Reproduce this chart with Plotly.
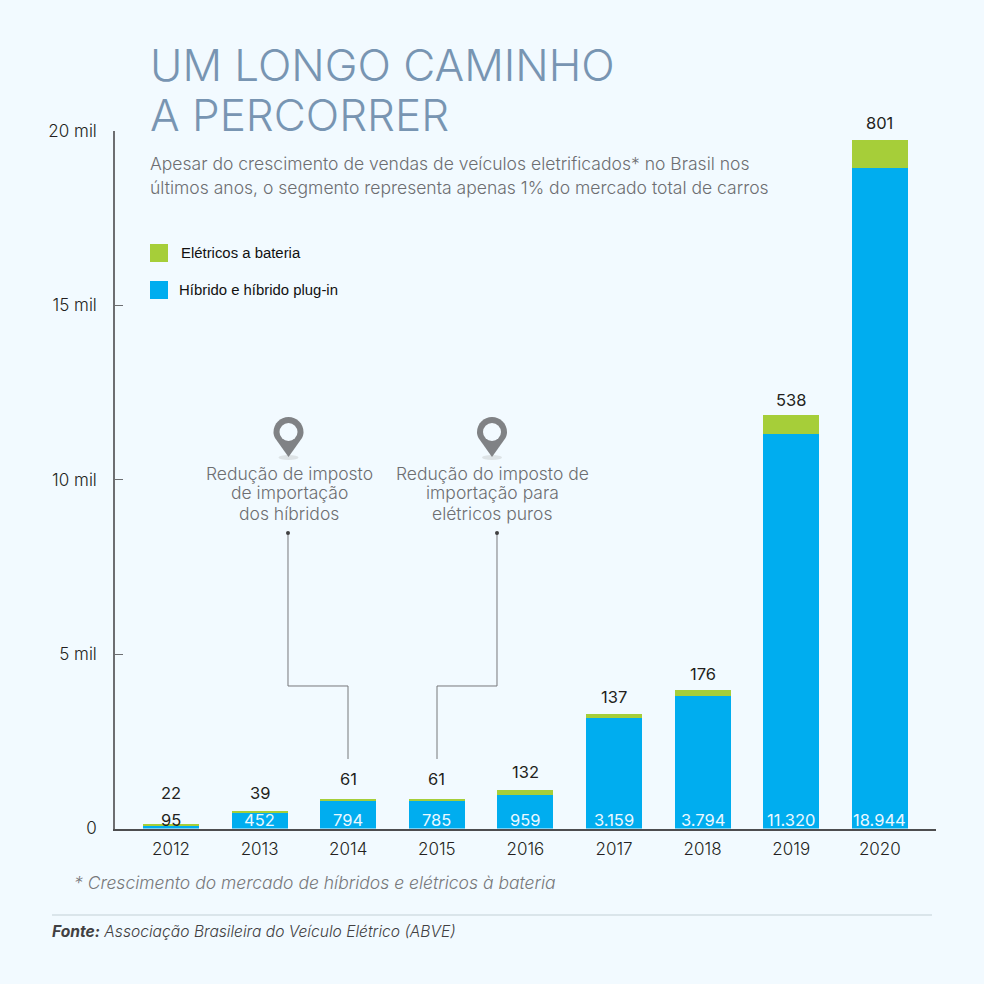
import plotly.graph_objects as go

years = ["2012", "2013", "2014", "2015", "2016", "2017", "2018", "2019", "2020"]
hybrid = [95, 452, 794, 785, 959, 3159, 3794, 11320, 18944]
electric = [22, 39, 61, 61, 132, 137, 176, 538, 801]
hybrid_labels = ["95", "452", "794", "785", "959", "3.159", "3.794", "11.320", "18.944"]
electric_labels = ["22", "39", "61", "61", "132", "137", "176", "538", "801"]
y_ticks = [0, 5000, 10000, 15000, 20000]
y_tick_labels = ["0", "5 mil", "10 mil", "15 mil", "20 mil"]

W = 984
BG = "#f2faff"
BLUE = "#00adef"
GREEN = "#a6ce39"
FONT = "Inter"
GREY = "#6d6e71"
label_shift = [31, 18, 20, 20, 18, 17, 16, 15, 17]


def px(x):
    return x / W


def py(y):
    return 1 - y / W


fig = go.Figure()
fig.add_bar(x=years, y=hybrid, name="Híbrido e híbrido plug-in", marker_color=BLUE,
            marker_line_width=0, width=0.632)
fig.add_bar(x=years, y=electric, name="Elétricos a bateria", marker_color=GREEN,
            marker_line_width=0, width=0.632)

ann = []
for i, yr in enumerate(years):
    total = hybrid[i] + electric[i]
    ann.append(dict(x=i, y=total, text=electric_labels[i], showarrow=False, yshift=label_shift[i],
                    xref="x", yref="y", font=dict(family=FONT, size=16.5, color="#231f20")))
    ann.append(dict(x=i, y=0, text=hybrid_labels[i], showarrow=False, yshift=9,
                    xref="x", yref="y",
                    font=dict(family=FONT, size=16.5, color="#231f20" if i == 0 else "#eaf8ff")))


def txt(x, y, s, size, color, anchor="left", family=FONT, weight=None, style=None):
    f = dict(family=family, size=size, color=color)
    if weight:
        f["weight"] = weight
    if style:
        f["style"] = style
    ann.append(dict(x=px(x), y=py(y), text=s, xref="paper", yref="paper", showarrow=False,
                    xanchor=anchor, yanchor="middle", align=anchor, font=f))


TITLE = "#7895b2"
txt(148, 65, "UM LONGO CAMINHO", 44, TITLE, weight=300)
txt(148, 115, "A PERCORRER", 44, TITLE, weight=300)
txt(148, 164, "Apesar do crescimento de vendas de veículos eletrificados* no Brasil nos", 17.55, GREY, weight=300)
txt(148, 187, "últimos anos, o segmento representa apenas 1% do mercado total de carros", 17.55, GREY, weight=300)
txt(179, 253, "Elétricos a bateria", 14.9, "#111111", family="Liberation Sans")
txt(177, 290, "Híbrido e híbrido plug-in", 14.9, "#111111", family="Liberation Sans")
for cx, lines in ((289, ["Redução de imposto", "de importação", "dos híbridos"]),
                  (492, ["Redução do imposto de", "importação para", "elétricos puros"])):
    for j, line in enumerate(lines):
        txt(cx, 473 + j * 20, line, 17.5, GREY, anchor="center", weight=300)
txt(72, 882, "* Crescimento do mercado de híbridos e elétricos à bateria", 17.5, "#77787b", style="italic", weight=300)
ann.append(dict(x=px(50), y=py(931),
                text="<b><i>Fonte:</i></b> <i>Associação Brasileira do Veículo Elétrico (ABVE)</i>",
                xref="paper", yref="paper", showarrow=False, xanchor="left", yanchor="middle",
                font=dict(family=FONT, size=15.6, color="#414042", weight=300)))

shapes = []


def paper_shape(**k):
    k.setdefault("xref", "paper")
    k.setdefault("yref", "paper")
    shapes.append(k)


def rect(x0, y0, x1, y1, color):
    paper_shape(type="rect", x0=px(x0), x1=px(x1), y0=py(y0), y1=py(y1), fillcolor=color, line_width=0)


rect(150, 244, 168, 262, GREEN)
rect(150, 281, 168, 299, BLUE)
paper_shape(type="line", x0=px(52), x1=px(932), y0=py(915), y1=py(915), line=dict(color="#c3d0d6", width=1))


def polyline(points):
    d = "M" + " L".join(f"{px(a):.5f},{py(b):.5f}" for a, b in points)
    paper_shape(type="path", path=d, line=dict(color="#77787b", width=1), fillcolor="rgba(0,0,0,0)")


polyline([(288, 533), (288, 686), (348, 686), (348, 759)])
polyline([(497, 533), (497, 686), (437, 686), (437, 759)])
for cx in (288, 497):
    paper_shape(type="circle", x0=px(cx - 2), x1=px(cx + 2), y0=py(535), y1=py(531), fillcolor="#414042", line_width=0)


def pin(cx):
    paper_shape(type="circle", x0=px(cx - 10), x1=px(cx + 10), y0=py(460), y1=py(455), fillcolor="#dde3e6", line_width=0)
    top, mid, tip, r = 417, 432, 457, 15
    k = 0.552 * r
    d = (f"M{px(cx)},{py(tip)} L{px(cx - r + 1.5)},{py(mid + 6)} "
         f"C{px(cx - r)},{py(mid + 3)} {px(cx - r)},{py(mid + 1)} {px(cx - r)},{py(mid)} "
         f"C{px(cx - r)},{py(mid - k)} {px(cx - k)},{py(top)} {px(cx)},{py(top)} "
         f"C{px(cx + k)},{py(top)} {px(cx + r)},{py(mid - k)} {px(cx + r)},{py(mid)} "
         f"C{px(cx + r)},{py(mid + 1)} {px(cx + r)},{py(mid + 3)} {px(cx + r - 1.5)},{py(mid + 6)} Z")
    paper_shape(type="path", path=d, fillcolor="#808285", line_width=0)
    paper_shape(type="circle", x0=px(cx - 9), x1=px(cx + 9), y0=py(441), y1=py(423), fillcolor=BG, line_width=0)


pin(288.5)
pin(492)

fig.update_layout(
    width=W, height=W, autosize=False, barmode="stack", showlegend=False,
    paper_bgcolor=BG, plot_bgcolor=BG,
    margin=dict(l=0, r=0, t=0, b=0, pad=0, autoexpand=False),
    annotations=ann, shapes=shapes, bargap=0.368,
    font=dict(family=FONT, color="#231f20"),
    xaxis=dict(domain=[px(115), px(936)], range=[-0.632, 8.634], type="category",
               categoryorder="array", categoryarray=years, showgrid=False, ticks="",
               showline=True, linecolor="#4d4d4f", linewidth=1.5, zeroline=False,
               tickfont=dict(family=FONT, size=17, color="#231f20", weight=300), ticklabelstandoff=4),
    yaxis=dict(domain=[py(828.5), py(131)], range=[0, 20000], tickvals=y_ticks, ticktext=y_tick_labels,
               showgrid=False, zeroline=False, ticks="inside", ticklen=8, tickcolor="#6d6e71", tickwidth=1,
               showline=True, linecolor="#6d6e71", linewidth=1.5, ticklabelstandoff=13,
               tickfont=dict(family=FONT, size=17, color="#231f20", weight=300)),
)
fig.write_html("out.html", config=dict(displayModeBar=False),
               post_script=f"document.body.style.margin='0';document.body.style.background='{BG}';document.documentElement.style.overflow='hidden';")
